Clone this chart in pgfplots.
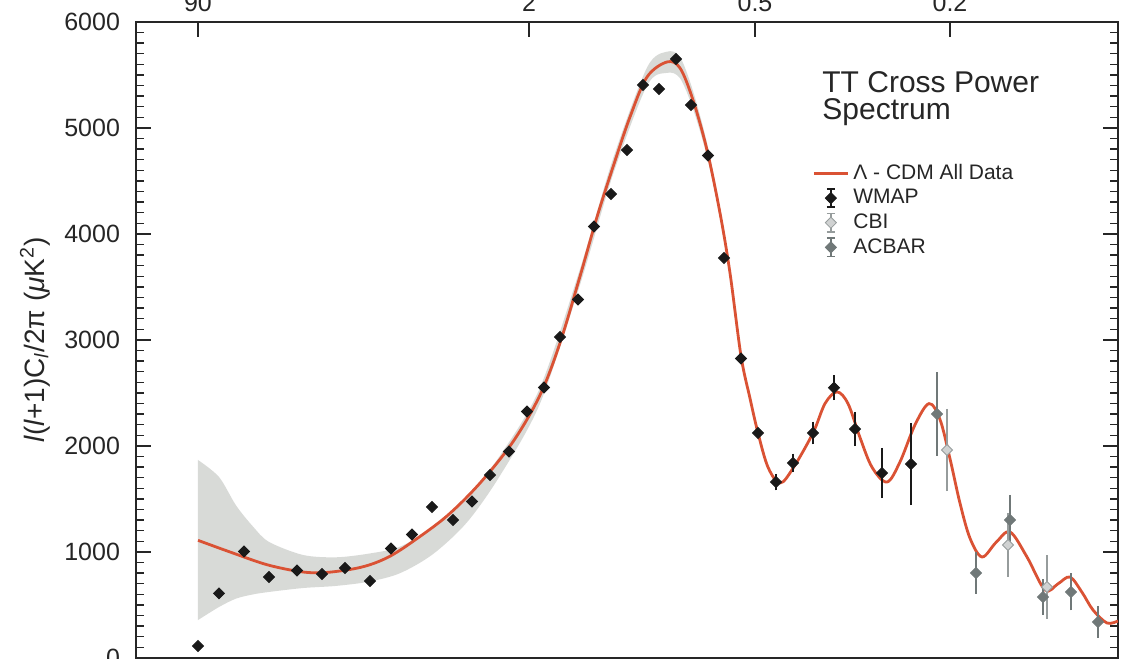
\documentclass[border=0pt]{standalone}
\usepackage{pgfplots}
\pgfplotsset{compat=1.18}
\usepgfplotslibrary{fillbetween}
\usepackage{fontspec}
\setmainfont{Liberation Sans}
\definecolor{cdmred}{RGB}{218,82,52}
\definecolor{bandgray}{RGB}{216,218,215}
\definecolor{acbar}{RGB}{112,120,120}
\definecolor{cbi}{RGB}{150,156,156}
\definecolor{wmap}{RGB}{25,25,25}
\pgfplotsset{errleg/.style={legend image code/.code={
  \draw[##1,line width=0.8pt] (0.3cm,-0.16cm)--(0.3cm,0.16cm) (0.23cm,-0.16cm)--(0.37cm,-0.16cm) (0.23cm,0.16cm)--(0.37cm,0.16cm);
  \draw[##1] plot coordinates {(0.3cm,0cm)};
}}}
\begin{document}
\begin{tikzpicture}
\begin{axis}[
 name=ax,
 scale only axis, width=491pt, height=318pt,
 xmin=136, xmax=1118, ymin=0, ymax=6000,
 axis line style={line width=0.8pt, black!85},
 tick style={line width=0.7pt, black!85},
 tick align=inside,
 xtick={198,529,755,950}, xticklabels={90,2,0.5,0.2},
 xtick pos=right, xticklabel pos=right,
 ytick={0,1000,...,6000}, minor y tick num=9,
 ytick pos=both, yticklabel pos=left,
 major tick length=7.5pt, minor tick length=4pt,
 ticklabel style={font=\fontsize{12.5}{14}\selectfont, text=black!85},
 /pgf/number format/assume math mode=true,
 /pgf/number format/1000 sep={},
 yticklabel style={xshift=-4.5pt},
 xticklabel style={yshift=1.5pt},
 ylabel={\textit{l}(\textit{l}+1)C\textsubscript{\textit{l}}/2π (\textit{μ}K\textsuperscript{2})},
 ylabel style={at={(axis description cs:-0.103,0.5)}, anchor=center, font=\fontsize{14}{16}\selectfont, text=black!85},
 legend style={at={(axis cs:812,4700)}, anchor=north west, draw=none, fill=none,
   font=\fontsize{10.5}{12}\selectfont, row sep=-0.5pt, inner sep=0pt, text=black!85},
 legend cell align=left,
]
% cosmic variance band
\addplot[name path=bandup, draw=none, smooth, forget plot] coordinates {
(198,1868)(219,1708)(236,1440)(253,1240)(269,1095)(303,972)(336,950)(369,985)(400,1050)(433,1240)(467,1530)(500,1910)(540,2550)(580,3670)(613,4710)(647,5570)(667,5720)(680,5670)(693,5350)(707,4860)(720,4250)(730,3660)};
\addplot[name path=bandlo, draw=none, smooth, forget plot] coordinates {
(198,358)(219,481)(236,560)(253,600)(269,623)(303,660)(336,680)(369,720)(400,800)(433,980)(467,1280)(500,1720)(540,2400)(580,3520)(613,4560)(647,5400)(667,5520)(680,5470)(693,5180)(707,4730)(720,4150)(730,3600)};
\addplot[bandgray, forget plot] fill between[of=bandup and bandlo];
% Lambda-CDM model
\addplot[cdmred, line width=1.4pt, smooth, tension=0.55, no marks] coordinates {
(198,1110)(233,990)(267,880)(300,815)(323,805)(350,835)(370,880)(390,960)(413,1100)(447,1340)(480,1650)(513,2040)(540,2480)(560,2972)(580,3600)(597,4160)(613,4632)(630,5104)(647,5481)(667,5623)(680,5566)(693,5264)(707,4792)(720,4198)(730,3632)(741,2850)(750,2450)(758,2123)(768,1800)(780,1651)(793,1790)(813,2123)(825,2400)(837,2510)(848,2400)(860,2080)(872,1800)(887,1660)(900,1850)(915,2200)(929,2400)(940,2250)(950,1880)(960,1460)(970,1130)(982,953)(996,1090)(1010,1189)(1027,953)(1045,641)(1058,700)(1070,764)(1082,620)(1093,453)(1107,330)(1118,350)};
\addlegendentry{Λ - CDM All Data}
% WMAP
\addplot[errleg, color=wmap, only marks, mark=square*, mark size=1.95pt, mark options={rotate=45, fill=wmap, draw=wmap},
  error bars/.cd, y dir=both, y explicit, error bar style={line width=0.9pt}, error mark options={mark size=2pt, line width=0.9pt}] coordinates {
(198,113) +- (0,0) (219,610) +- (0,0) (244,1005) +- (0,0) (269,764) +- (0,0) (297,825) +- (0,0)
(322,792) +- (0,0) (345,849) +- (0,0) (370,726) +- (0,0) (391,1033) +- (0,0) (412,1165) +- (0,0)
(432,1425) +- (0,0) (453,1302) +- (0,0) (472,1477) +- (0,0) (490,1726) +- (0,0) (509,1948) +- (0,0)
(527,2325) +- (0,0) (544,2552) +- (0,0) (560,3028) +- (0,0) (578,3382) +- (0,0) (594,4070) +- (0,0)
(611,4377) +- (0,0) (627,4792) +- (0,0) (643,5406) +- (0,0) (659,5368) +- (0,0) (676,5651) +- (0,0)
(691,5217) +- (0,0) (708,4740) +- (0,0) (724,3774) +- (0,0) (741,2825) +- (0,0) (758,2123) +- (0,0)
(776,1660) +- (0,40) (793,1840) +- (0,50) (813,2123) +- (0,70) (834,2550) +- (0,80) (855,2160) +- (0,123)
(882,1745) +- (0,200) (911,1830) +- (0,350)};
\addlegendentry{WMAP}
% CBI
\addplot[errleg, color=cbi, only marks, mark=square*, mark size=1.95pt, mark options={rotate=45, fill=cbi!45, draw=cbi},
  error bars/.cd, y dir=both, y explicit, error bar style={line width=0.9pt}, error mark options={mark size=2pt, line width=0.9pt}] coordinates {
(947,1962) +- (0,350) (1008,1066) +- (0,264) (1047,670) +- (0,260)};
\addlegendentry{CBI}
% ACBAR
\addplot[errleg, color=acbar, only marks, mark=square*, mark size=1.95pt, mark options={rotate=45, fill=acbar, draw=acbar},
  error bars/.cd, y dir=both, y explicit, error bar style={line width=0.9pt}, error mark options={mark size=2pt, line width=0.9pt}] coordinates {
(937,2302) +- (0,354) (976,802) +- (0,156) (1010,1302) +- (0,200) (1043,575) +- (0,128) (1071,623) +- (0,137) (1098,340) +- (0,113)};
\addlegendentry{ACBAR}
\node[anchor=north west, align=left, inner sep=0pt, font=\fontsize{15}{13.5}\selectfont, text=black!85] at (axis cs:822,5540) {TT Cross Power\\Spectrum};
\end{axis}
\pgfresetboundingbox
\path ([xshift=-68pt,yshift=-0.5pt]ax.south west) rectangle ([xshift=1.5pt,yshift=11pt]ax.north east);
\end{tikzpicture}
\end{document}
